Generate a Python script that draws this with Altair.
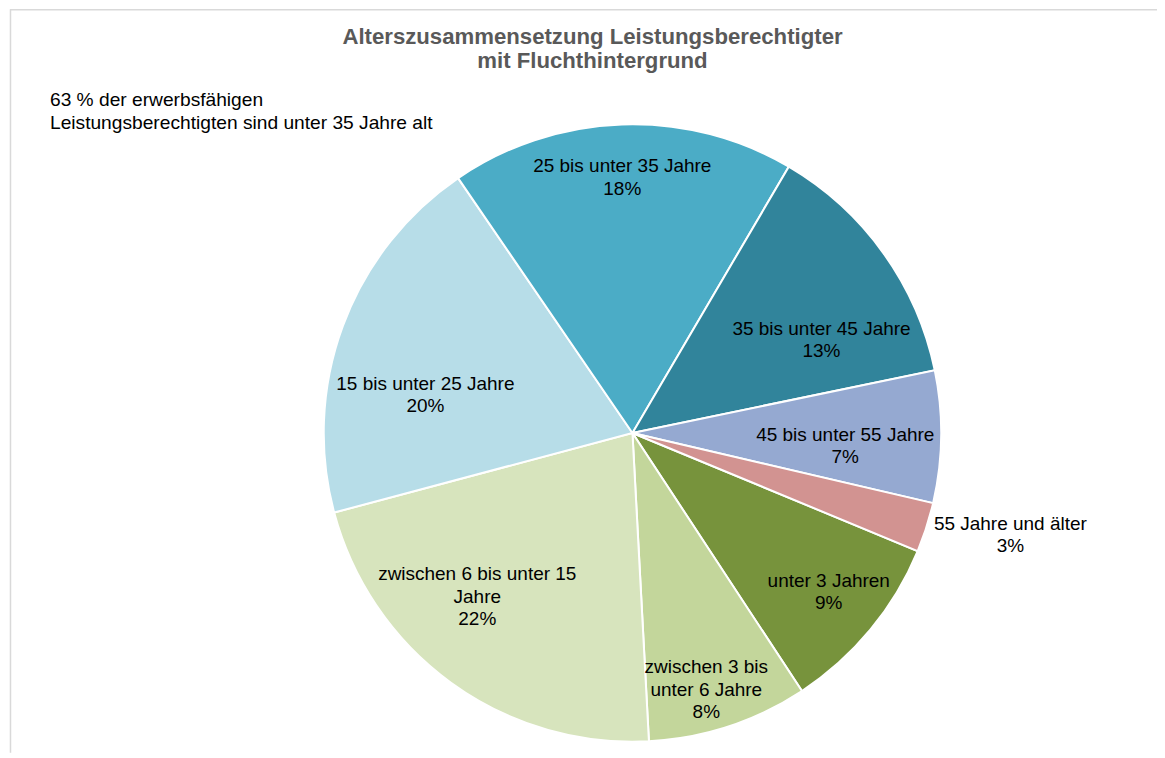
import math
import altair as alt
import pandas as pd

# ---- data ----
categories = [
    "unter 3 Jahren",
    "zwischen 3 bis unter 6 Jahre",
    "zwischen 6 bis unter 15 Jahre",
    "15 bis unter 25 Jahre",
    "25 bis unter 35 Jahre",
    "35 bis unter 45 Jahre",
    "45 bis unter 55 Jahre",
    "55 Jahre und älter",
]
shares = [9.5, 8.4, 21.7, 19.6, 18.0, 13.3, 6.9, 2.6]
label_names = [
    "unter 3 Jahren",
    "zwischen 3 bis\nunter 6 Jahre",
    "zwischen 6 bis unter 15\nJahre",
    "15 bis unter 25 Jahre",
    "25 bis unter 35 Jahre",
    "35 bis unter 45 Jahre",
    "45 bis unter 55 Jahre",
    "55 Jahre und älter",
]
pct_labels = ["9%", "8%", "22%", "20%", "18%", "13%", "7%", "3%"]
colors = ["#77933C", "#C3D69B", "#D7E4BD", "#B7DDE8", "#4BACC6", "#31849B", "#95A9D1", "#D29391"]

title_lines = "Alterszusammensetzung Leistungsberechtigter\nmit Fluchthintergrund"
note_lines = "63 % der erwerbsfähigen\nLeistungsberechtigten sind unter 35 Jahre alt"

# ---- label layout: radius (px) and angular nudge (degrees) of each label's first line ----
label_radius = [246, 246, 210, 213, 267, 216, 213, 389]
label_nudge = [-2.6, 0.7, 11.7, -7.0, -0.2, 6.8, -0.2, -4.3]

W, H = 1150, 745
CX, CY, R = 625, 425, 309
START = math.radians(112.5)
FONT = "Liberation Sans"

df = pd.DataFrame({
    "idx": list(range(len(categories))),
    "cat": categories,
    "value": shares,
    "label": [n + "\n" + p for n, p in zip(label_names, pct_labels)],
    "lr": label_radius,
    "nudge": label_nudge,
})

theta_scale = alt.Scale(domain=[0, 100], range=[START, START + 2 * math.pi])
color_scale = alt.Scale(domain=categories, range=colors)
base = alt.Chart(df)

pie = base.mark_arc(outerRadius=R, stroke="white", strokeWidth=2).encode(
    theta=alt.Theta("value:Q", stack=True, scale=theta_scale),
    color=alt.Color("cat:N", scale=color_scale, legend=None),
    order=alt.Order("idx:Q"),
    x=alt.value(CX),
    y=alt.value(CY),
)

labels = base.transform_window(
    cum="sum(value)", sort=[alt.SortField("idx")], frame=[None, 0]
).transform_joinaggregate(
    total="sum(value)"
).transform_calculate(
    pos="(datum.cum - datum.value / 2) / datum.total * 100 + datum.nudge / 3.6"
).mark_text(
    font=FONT, fontSize=19, lineHeight=22.5, lineBreak="\n",
    align="center", baseline="middle", color="#000000",
).encode(
    theta=alt.Theta("pos:Q", stack=None, scale=theta_scale),
    radius=alt.Radius("lr:Q", scale=None),
    text="label:N",
    x=alt.value(CX),
    y=alt.value(CY),
)

frame_df = pd.DataFrame({"k": [0]})
top_rule = alt.Chart(frame_df).mark_rule(color="#D9D9D9", strokeWidth=1.5).encode(
    x=alt.value(2), x2=alt.value(W), y=alt.value(1.5)
)
left_rule = alt.Chart(frame_df).mark_rule(color="#D9D9D9", strokeWidth=1.5).encode(
    x=alt.value(2.5), y=alt.value(1), y2=alt.value(H)
)

title = alt.Chart(pd.DataFrame({"t": [title_lines]})).mark_text(
    font=FONT, fontSize=22.2, fontWeight="bold", lineHeight=24, lineBreak="\n",
    align="center", baseline="middle", color="#595959",
).encode(text="t:N", x=alt.value(585), y=alt.value(29))

note = alt.Chart(pd.DataFrame({"t": [note_lines]})).mark_text(
    font=FONT, fontSize=19.2, lineHeight=22.5, lineBreak="\n",
    align="left", baseline="middle", color="#000000",
).encode(text="t:N", x=alt.value(42), y=alt.value(92))

chart = alt.layer(top_rule, left_rule, pie, labels, title, note).properties(
    width=W, height=H,
    autosize=alt.AutoSizeParams(type="none"),
    padding=0,
    background="white",
).configure_view(stroke=None)

chart.save("out.html", embed_options={"renderer": "svg", "actions": False})
